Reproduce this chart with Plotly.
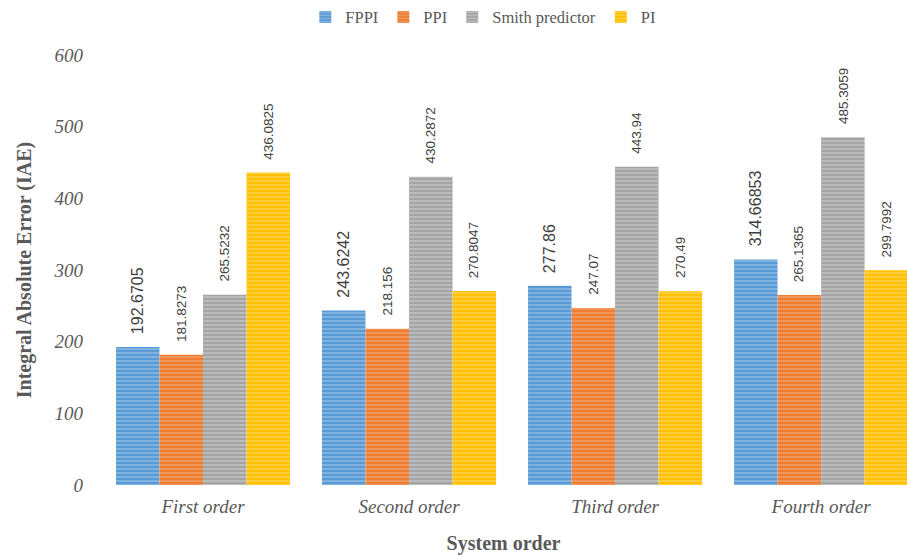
import plotly.graph_objects as go

categories = ["First order", "Second order", "Third order", "Fourth order"]
series_names = ["FPPI", "PPI", "Smith predictor", "PI"]
fppi = [192.6705, 243.6242, 277.86, 314.66853]
ppi = [181.8273, 218.156, 247.07, 265.1365]
smith = [265.5232, 430.2872, 443.94, 485.3059]
pi = [436.0825, 270.8047, 270.49, 299.7992]
labels = [
    ["192.6705", "243.6242", "277.86", "314.66853"],
    ["181.8273", "218.156", "247.07", "265.1365"],
    ["265.5232", "430.2872", "443.94", "485.3059"],
    ["436.0825", "270.8047", "270.49", "299.7992"],
]
y_ticks = [0, 100, 200, 300, 400, 500, 600]

colors = ["#5B9BD5", "#ED7D31", "#A5A5A5", "#FFC000"]
stripe = ["#C5DCF2", "#F8C6A5", "#E2E2E2", "#FFE8A0"]
label_sizes = [16, 13.5, 13.5, 13.5]

W, H = 907, 555
ML, MR, MT, MB = 100, 0, 55, 70
x_range = [-0.5, 3.417]
bargap = 0.155
n_series = 4

plot_w = W - ML - MR
cat_px = plot_w / (x_range[1] - x_range[0])
bar_px = cat_px * (1 - bargap) / n_series

fig = go.Figure()
all_vals = [fppi, ppi, smith, pi]
for i, (name, vals) in enumerate(zip(series_names, all_vals)):
    fig.add_trace(go.Bar(
        name=name, x=categories, y=vals,
        marker=dict(color=colors[i], line=dict(width=0),
                    pattern=dict(shape="-", size=4, solidity=0.35,
                                 fgcolor=stripe[i], bgcolor=colors[i], fillmode="overlay")),
    ))
    for j, cat in enumerate(categories):
        fig.add_annotation(
            x=cat, y=vals[j], xref="x", yref="y",
            text=labels[i][j], textangle=-90, showarrow=False,
            xanchor="center", yanchor="bottom",
            xshift=(i - (n_series - 1) / 2) * bar_px, yshift=11,
            font=dict(family="Liberation Sans", size=label_sizes[i], color="#404040"),
        )

fig.update_layout(
    width=W, height=H,
    margin=dict(l=ML, r=MR, t=MT, b=MB, autoexpand=False),
    paper_bgcolor="white", plot_bgcolor="white",
    barmode="group", bargap=bargap, bargroupgap=0,
    font=dict(family="Liberation Serif", color="#595959"),
    legend=dict(orientation="h", x=0.475, xanchor="center", y=0.969, yref="container",
                yanchor="middle",
                font=dict(family="Liberation Serif", size=16.5, color="#595959"),
                itemwidth=30, tracegroupgap=0),
    xaxis=dict(range=x_range, showgrid=False, showline=False, ticks="",
               ticklabelstandoff=8,
               tickfont=dict(family="Liberation Serif", size=19, color="#595959", style="italic"),
               title=dict(text="<b>System order</b>", font=dict(family="Liberation Serif", size=20, color="#595959"),
                          standoff=21)),
    yaxis=dict(range=[0, 600], tickvals=y_ticks, showgrid=False, showline=False, ticks="",
               ticklabelstandoff=16,
               tickfont=dict(family="Liberation Serif", size=19, color="#595959", style="italic"),
               title=dict(text="<b>Integral Absolute Error (IAE)</b>",
                          font=dict(family="Liberation Serif", size=20, color="#595959"), standoff=16)),
)

fig.write_html("out.html")
